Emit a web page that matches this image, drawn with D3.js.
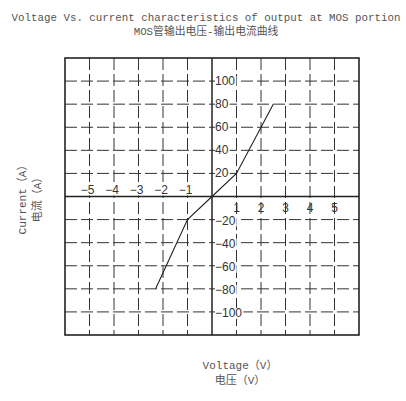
<!DOCTYPE html>
<html>
<head>
<meta charset="utf-8">
<script src="https://cdn.jsdelivr.net/npm/d3@7"></script>
<style>
  body { margin: 0; background: #fff; }
  .ttl { font-family: "Liberation Mono", "Noto Sans CJK SC", monospace; fill: #555; }
  .tick { font-family: "Liberation Sans", Arial, sans-serif; font-size: 12px; fill: #333; }
</style>
</head>
<body>
<div id="chart"></div>
<script>
"use strict";

// curve points (V, A)
const voltage = [-2.3, -1, 0, 1, 2.5];
const current = [-80, -20, 0, 20, 80];
const xTicks = [-5, -4, -3, -2, -1, 1, 2, 3, 4, 5];
const yTicks = [-100, -80, -60, -40, -20, 20, 40, 60, 80, 100];
const titleLines = ["Voltage Vs. current characteristics of output at MOS portion", "MOS管输出电压-输出电流曲线"];
const yLabelLines = ["Current（A）", "电流（A）"];
const xLabelLines = ["Voltage（V）", "电压（V）"];

const width = 406, height = 401;
const svg = d3.select("#chart").append("svg")
  .attr("width", width).attr("height", height);

const x = d3.scaleLinear().domain([-6, 6]).range([65, 359]);
const y = d3.scaleLinear().domain([-120, 120]).range([335, 58]);

// dashed grid
const grid = svg.append("g")
  .attr("stroke", "#333").attr("stroke-width", 1)
  .attr("stroke-dasharray", "12,4");
grid.selectAll(".gx").data(xTicks).enter().append("line")
  .attr("x1", d => x(d)).attr("x2", d => x(d))
  .attr("y1", y(120)).attr("y2", y(-120));
grid.selectAll(".gy").data(yTicks).enter().append("line")
  .attr("y1", d => y(d)).attr("y2", d => y(d))
  .attr("x1", x(-6)).attr("x2", x(6));

// tick labels
const xg = svg.append("g");
const xl = xg.selectAll("text").data(xTicks).enter().append("text")
  .attr("class", "tick")
  .attr("x", d => x(d) + (d < 0 ? -2 : 0))
  .attr("y", d => d < 0 ? y(0) - 3 : y(0) + 15)
  .attr("text-anchor", "middle")
  .text(d => d < 0 ? "\u2212" + Math.abs(d) : d);

const yg = svg.append("g");
const yl = yg.selectAll("text").data(yTicks).enter().append("text")
  .attr("class", "tick")
  .attr("x", x(0) + 3)
  .attr("y", d => d < 0 ? y(d) + 5 : y(d) + 4)
  .text(d => d < 0 ? "\u2212" + Math.abs(d) : d);

// white backing behind labels to cut the dashes
function backing(sel, g) {
  sel.each(function () {
    const b = this.getBBox();
    g.insert("rect", "text")
      .attr("x", b.x).attr("y", b.y + 2).attr("width", b.width + 1).attr("height", b.height - 3)
      .attr("fill", "#fff");
  });
}
backing(yl, yg);
backing(xl.filter(d => d < 0), xg);

// frame + axes
svg.append("rect")
  .attr("x", x(-6)).attr("y", y(120))
  .attr("width", x(6) - x(-6)).attr("height", y(-120) - y(120))
  .attr("fill", "none").attr("stroke", "#222").attr("stroke-width", 1.6);
svg.append("line").attr("x1", x(0)).attr("x2", x(0)).attr("y1", y(120)).attr("y2", y(-120))
  .attr("stroke", "#222").attr("stroke-width", 1.5);
svg.append("line").attr("x1", x(-6)).attr("x2", x(6)).attr("y1", y(0)).attr("y2", y(0))
  .attr("stroke", "#222").attr("stroke-width", 1.5);

// curve
const line = d3.line().x(d => x(d[0])).y(d => y(d[1]));
svg.append("path")
  .datum(d3.zip(voltage, current))
  .attr("d", line)
  .attr("fill", "none").attr("stroke", "#222").attr("stroke-width", 1.1);

// titles
svg.append("g").selectAll("text").data(titleLines).enter().append("text")
  .attr("class", "ttl").attr("font-size", 10.8)
  .attr("x", 206).attr("y", (d, i) => 21 + i * 14)
  .attr("text-anchor", "middle").text(d => d);

svg.append("g").selectAll("text").data(yLabelLines).enter().append("text")
  .attr("class", "ttl").attr("font-size", 11)
  .attr("text-anchor", "middle")
  .attr("transform", (d, i) => "translate(" + (26 + i * 15) + ",197) rotate(-90)")
  .text(d => d);

svg.append("g").selectAll("text").data(xLabelLines).enter().append("text")
  .attr("class", "ttl").attr("font-size", 11)
  .attr("text-anchor", "middle")
  .attr("x", 240).attr("y", (d, i) => 369 + i * 15)
  .text(d => d);
</script>
</body>
</html>
